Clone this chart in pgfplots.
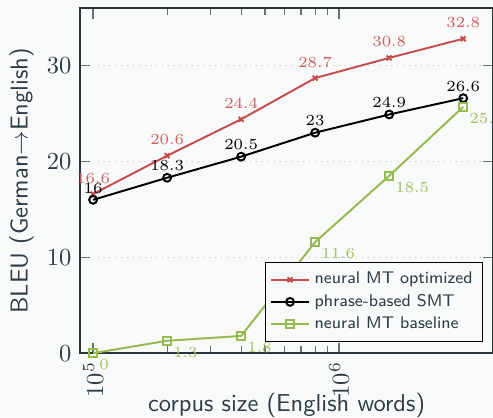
\documentclass[border=0pt]{standalone}
\usepackage{pgfplots}
\pgfplotsset{compat=1.18}
\usetikzlibrary{backgrounds}
\definecolor{bgc}{RGB}{248,249,249}
\definecolor{axc}{RGB}{40,52,60}
\definecolor{txc}{RGB}{45,60,70}
\definecolor{myred}{RGB}{196,78,78}
\definecolor{mygreen}{RGB}{150,185,80}
\definecolor{gridc}{RGB}{190,195,198}
\begin{document}
\begin{tikzpicture}[background rectangle/.style={fill=bgc,draw=none}, show background rectangle, inner frame sep=0pt]
\begin{semilogxaxis}[
  scale only axis,
  width=168.7pt, height=141pt,
  xmin=88520, xmax=4.23e6,
  ymin=0, ymax=36,
  axis line style={axc, line width=0.75pt},
  tick style={axc!70, line width=0.5pt},
  ytick={0,10,20,30},
  ymajorgrids,
  grid style={gridc, dotted, line width=0.5pt},
  tick align=inside,
  xtick={1e5,1e6},
  x tick label style={rotate=90, anchor=east, text=txc},
  y tick label style={text=txc},
  xlabel={\sffamily corpus size (English words)},
  ylabel={\sffamily BLEU (German$\rightarrow$English)},
  label style={text=txc},
  xlabel style={at={(axis description cs:0.5,-0.150)}, anchor=center},
  ylabel style={at={(axis description cs:-0.1417,0.5)}, anchor=center},
  legend style={at={(0.976,0.032)}, anchor=south east, draw=black, fill=bgc, font=\sffamily\fontsize{6.9}{7.5}\selectfont, text=txc, line width=0.5pt, row sep=-1.3pt, inner sep=2pt},
  legend cell align=left,
  legend image code/.code={\draw[mark repeat=2,mark phase=2] plot coordinates {(0cm,0cm) (0.27cm,0cm) (0.54cm,0cm)};},
  every node near coord/.append style={font=\fontsize{6.3}{7}\selectfont},
]
\addplot[myred, line width=0.8pt, mark=x, mark size=1.4pt, mark options={line width=0.8pt},
  nodes near coords, point meta=explicit symbolic,
  every node near coord/.append style={anchor=south, yshift=0.6pt, text=myred!90}]
  coordinates {(1e5,16.6)[16.6] (2e5,20.6)[20.6] (4e5,24.4)[24.4] (8e5,28.7)[28.7] (1.6e6,30.8)[30.8] (3.2e6,32.8)[32.8]};
\addlegendentry{neural MT optimized}
\addplot[black, line width=0.8pt, mark=o, mark size=1.6pt, mark options={line width=0.8pt},
  nodes near coords, point meta=explicit symbolic,
  every node near coord/.append style={anchor=south, yshift=-1.1pt, text=black}]
  coordinates {(1e5,16)[16] (2e5,18.3)[18.3] (4e5,20.5)[20.5] (8e5,23)[23] (1.6e6,24.9)[24.9] (3.2e6,26.6)[26.6]};
\addlegendentry{phrase-based SMT}
\addplot[mygreen, line width=0.8pt, mark=square, mark size=1.65pt, mark options={line width=0.8pt},
  nodes near coords, point meta=explicit symbolic,
  every node near coord/.append style={anchor=north west, xshift=-1.2pt, yshift=1.2pt, text=mygreen!90}]
  coordinates {(1e5,0)[0] (2e5,1.3)[1.3] (4e5,1.8)[1.8] (8e5,11.6)[11.6] (1.6e6,18.5)[18.5] (3.2e6,25.7)[25.7]};
\addlegendentry{neural MT baseline}
\end{semilogxaxis}
\pgfresetboundingbox
\path ([shift={(-32.7pt,-26.1pt)}]current axis.south west) rectangle ([shift={(0pt,3.3pt)}]current axis.north east);
\end{tikzpicture}
\end{document}
